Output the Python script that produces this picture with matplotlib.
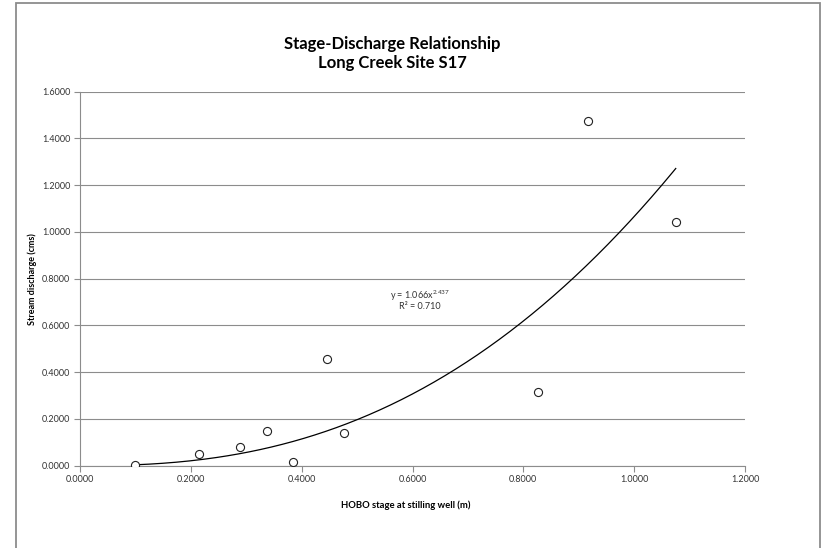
import numpy as np
import matplotlib
matplotlib.use("Agg")
import matplotlib.pyplot as plt
from matplotlib.patches import Rectangle
from matplotlib.ticker import FormatStrFormatter, MultipleLocator

plt.rcParams['font.family'] = ['Lato', 'DejaVu Sans']

# field measurements at site S17
stage_m = [0.0998, 0.215, 0.288, 0.337, 0.3845, 0.446, 0.477, 0.827, 0.916, 1.075]
discharge_cms = [0.002, 0.050, 0.079, 0.149, 0.017, 0.456, 0.141, 0.317, 1.473, 1.042]

# power trendline coefficients
coef_a = 1.066
coef_b = 2.437
r_squared = 0.710

fig = plt.figure(figsize=(8.22, 5.48), dpi=100)
ax = fig.add_axes([80 / 822, 1 - 465.7 / 548, 665 / 822, (465.7 - 91.7) / 548])

# chart area frame
fig.patches.append(Rectangle((16 / 822, -0.05), (820 - 16) / 822, 1.05 - 3.3 / 548,
                             transform=fig.transFigure, fill=False,
                             edgecolor='#8c8c8c', linewidth=1.3))

grey = '#8c8c8c'
ax.scatter(stage_m, discharge_cms, s=34, facecolors='white', edgecolors='#222222',
           linewidths=0.8, zorder=3)

xs = np.linspace(min(stage_m), max(stage_m), 200)
ax.plot(xs, coef_a * xs ** coef_b, color='black', linewidth=0.9, zorder=2)

ax.text(0.614, 0.728, 'y = %.3fx$\\mathregular{^{%.3f}}$' % (coef_a, coef_b),
        ha='center', va='center', fontsize=6.5, color='#333333')
ax.text(0.614, 0.681, 'R² = %.3f' % r_squared,
        ha='center', va='center', fontsize=6.5, color='#333333')

ax.set_xlim(0, 1.2)
ax.set_ylim(0, 1.6)
ax.xaxis.set_major_locator(MultipleLocator(0.2))
ax.yaxis.set_major_locator(MultipleLocator(0.2))
ax.xaxis.set_major_formatter(FormatStrFormatter('%.4f'))
ax.yaxis.set_major_formatter(FormatStrFormatter('%.4f'))
ax.tick_params(labelsize=6.5, labelcolor='#333333', color=grey, length=4, width=0.8, pad=3)
ax.grid(axis='y', color=grey, linewidth=0.8)
ax.set_axisbelow(True)
for side in ['top', 'right']:
    ax.spines[side].set_visible(False)
for side in ['left', 'bottom']:
    ax.spines[side].set_color(grey)
    ax.spines[side].set_linewidth(0.8)

ax.set_xlabel('HOBO stage at stilling well (m)', fontsize=6.8, fontweight='bold', va='center')
ax.set_ylabel('Stream discharge (cms)', fontsize=6.5, fontweight='bold', va='center')
ax.xaxis.set_label_coords(0.49, (465.7 - 505) / 374)
ax.yaxis.set_label_coords((32 - 80) / 665, 0.5)

fig.text(392 / 822, 1 - 53.3 / 548, 'Stage-Discharge Relationship\nLong Creek Site S17',
         ha='center', va='center', fontsize=12, fontweight='bold', linespacing=1.2)

fig.savefig('out.png', dpi=100)
